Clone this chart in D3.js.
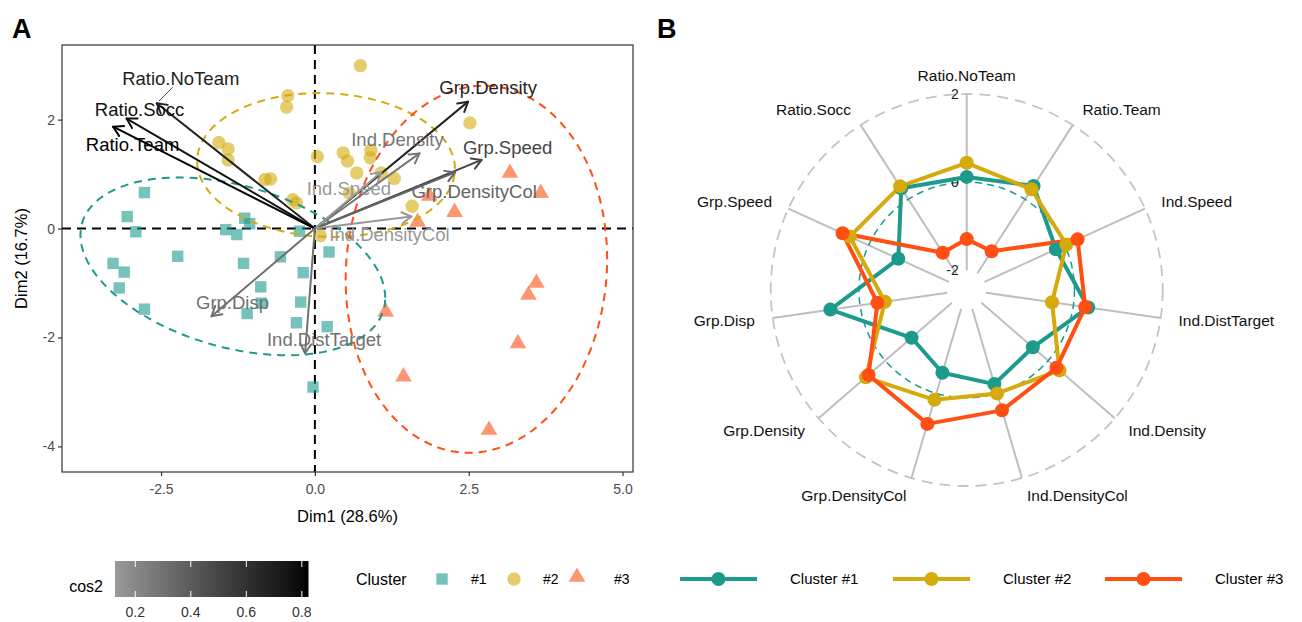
<!DOCTYPE html>
<html>
<head>
<meta charset="utf-8">
<script src="https://cdn.jsdelivr.net/npm/d3@7"></script>
<style>
  body { margin: 0; background: #fff; }
  svg { display: block; font-family: "Liberation Sans", Arial, Helvetica, sans-serif; }
</style>
</head>
<body>
<svg id="chart" width="1302" height="622"></svg>
<script>
// ---------------- data ----------------
// PCA individual scores, grouped by cluster
const c1x = [-2.77, -3.05, -2.91, -3.28, -3.10, -3.18, -2.77, -2.23, -1.14, -1.06, -1.45, -1.27, -1.16, -0.25, -0.56, -0.19, -0.88, -0.87, -0.23, -1.10, -0.30, 0.20, 0.23, -0.03];
const c1y = [0.66, 0.22, -0.06, -0.64, -0.80, -1.09, -1.48, -0.51, 0.19, 0.09, -0.02, -0.11, -0.64, -0.05, -0.52, -0.81, -1.07, -1.37, -1.35, -1.56, -1.73, -1.80, -0.43, -2.91];
const c2x = [0.74, -0.44, -0.46, -1.56, -1.41, -1.41, -0.81, -0.72, -0.36, -0.30, 0.04, 0.46, 0.53, 0.91, 0.90, 0.68, 1.08, 1.29, 0.56, 2.52, 1.58, 0.09];
const c2y = [2.99, 2.44, 2.23, 1.58, 1.46, 1.26, 0.90, 0.91, 0.53, 0.47, 1.32, 1.39, 1.24, 1.44, 1.30, 1.02, 1.02, 0.92, 0.65, 1.94, 0.41, -0.13];
const c3x = [3.17, 3.67, 1.86, 2.27, 1.67, 3.60, 3.47, 1.15, 3.30, 1.44, 2.83];
const c3y = [1.02, 0.65, 0.60, 0.30, 0.12, -1.00, -1.22, -1.53, -2.11, -2.72, -3.70];

// PCA variable coordinates (biplot scale) and quality of representation
const varNames = ["Ratio.NoTeam", "Ratio.Socc", "Ratio.Team", "Grp.Density", "Grp.Speed", "Ind.Density",
                  "Grp.DensityCol", "Ind.Speed", "Ind.DensityCol", "Grp.Disp", "Ind.DistTarget"];
const varX = [-2.57, -3.06, -3.28, 2.49, 2.71, 1.70, 2.28, 1.08, 1.57, -1.68, -0.16];
const varY = [2.30, 2.02, 1.87, 2.33, 1.26, 1.38, 1.03, 1.04, 0.22, -1.61, -2.29];
const varCos2 = [0.68, 0.77, 0.82, 0.67, 0.51, 0.28, 0.36, 0.13, 0.14, 0.31, 0.30];

const xTicks = [-2.5, 0, 2.5, 5];
const yTicks = [-4, -2, 0, 2];
const cos2Ticks = [0.2, 0.4, 0.6, 0.8];

// cluster profiles (standardised means) for the radar chart
const radarVars = ["Ratio.NoTeam", "Ratio.Team", "Ind.Speed", "Ind.DistTarget", "Ind.Density", "Ind.DensityCol",
                   "Grp.DensityCol", "Grp.Density", "Grp.Disp", "Grp.Speed", "Ratio.Socc"];
const profile1 = [0.12, 0.36, -0.22, 0.34, -0.46, -0.22, -0.49, -0.79, 0.68, -0.74, 0.30];
const profile2 = [0.44, 0.27, 0.04, -0.49, 0.34, 0.00, 0.15, 0.58, -0.57, 0.47, 0.35];
const profile3 = [-1.29, -1.40, 0.32, 0.27, 0.25, 0.40, 0.72, 0.50, -0.40, 0.65, -1.44];
const radarTicks = [-2, 0, 2];

const clusterNames = ["#1", "#2", "#3"];
const clusterColors = ["#1c9a8c", "#d4aa0c", "#ff4f12"];

// ---------------- setup ----------------
const svg = d3.select("#chart");
const FONT = '"Liberation Sans", Arial, Helvetica, sans-serif';

svg.append("text").attr("x", 12).attr("y", 38).attr("font-size", 27).attr("font-weight", "bold").text("A");
svg.append("text").attr("x", 657).attr("y", 38).attr("font-size", 27).attr("font-weight", "bold").text("B");

// ---------------- panel A: biplot ----------------
const pA = { left: 62, right: 633, top: 45, bottom: 472 };
const x = d3.scaleLinear().domain([-4.11, 5.17]).range([pA.left, pA.right]);
const y = d3.scaleLinear().domain([-4.47, 3.37]).range([pA.bottom, pA.top]);
const cos2Color = d3.scaleLinear().domain([0.127, 0.824]).range(["#9a9a9a", "#000000"]).interpolate(d3.interpolateLab);

svg.append("clipPath").attr("id", "clipA").append("rect")
  .attr("x", pA.left).attr("y", pA.top).attr("width", pA.right - pA.left).attr("height", pA.bottom - pA.top);

const gA = svg.append("g");
const plotA = gA.append("g").attr("clip-path", "url(#clipA)");

// reference lines through the origin
plotA.append("line").attr("x1", pA.left).attr("x2", pA.right).attr("y1", y(0)).attr("y2", y(0))
  .attr("stroke", "#000").attr("stroke-width", 2).attr("stroke-dasharray", "9,6");
plotA.append("line").attr("y1", pA.top).attr("y2", pA.bottom).attr("x1", x(0)).attr("x2", x(0))
  .attr("stroke", "#000").attr("stroke-width", 2).attr("stroke-dasharray", "9,6");

const groups = [
  { xs: c1x, ys: c1y, shape: d3.symbolSquare, size: 130 },
  { xs: c2x, ys: c2y, shape: d3.symbolCircle, size: 140 },
  { xs: c3x, ys: c3y, shape: d3.symbolTriangle, size: 120 }
];

// individuals
groups.forEach((g, gi) => {
  plotA.append("g").selectAll("path").data(g.xs.map((v, i) => [v, g.ys[i]])).join("path")
    .attr("transform", d => `translate(${x(d[0])},${y(d[1])})`)
    .attr("d", d3.symbol().type(g.shape).size(g.size))
    .attr("fill", clusterColors[gi]).attr("fill-opacity", 0.6);
});

// robust multivariate-t location/scatter (iteratively reweighted, nu = 5)
function covTrob(xs, ys, nu = 5, maxit = 25, tol = 0.01) {
  const n = xs.length, p = 2;
  let lx = d3.mean(xs), ly = d3.mean(ys);
  let w = new Array(n).fill(1);
  let X = [];
  for (let iter = 0; iter < maxit; iter++) {
    const w0 = w.slice();
    X = xs.map((v, i) => [v - lx, ys[i] - ly]);
    const sw = d3.sum(w);
    let a = 0, b = 0, c = 0;
    X.forEach((r, i) => { const f = w[i] / sw; a += f * r[0] * r[0]; b += f * r[0] * r[1]; c += f * r[1] * r[1]; });
    const det = a * c - b * b;
    const Q = X.map(r => (c * r[0] * r[0] - 2 * b * r[0] * r[1] + a * r[1] * r[1]) / det);
    w = Q.map(q => (nu + p) / (nu + q));
    const sw2 = d3.sum(w);
    lx = d3.sum(xs.map((v, i) => w[i] * v)) / sw2;
    ly = d3.sum(ys.map((v, i) => w[i] * v)) / sw2;
    if (w.every((v, i) => Math.abs(v - w0[i]) < tol)) break;
  }
  let sxx = 0, sxy = 0, syy = 0;
  X.forEach((r, i) => { sxx += w[i] * r[0] * r[0]; sxy += w[i] * r[0] * r[1]; syy += w[i] * r[1] * r[1]; });
  return { center: [lx, ly], cov: [[sxx / n, sxy / n], [sxy / n, syy / n]] };
}

// t-ellipse around each cluster
const ellipseLevel = 0.9;
function ellipsePoints(xs, ys, level) {
  const { center, cov } = covTrob(xs, ys);
  const dfd = xs.length - 1;
  const fq = dfd / 2 * (Math.pow(1 - level, -2 / dfd) - 1);   // F(2, dfd) quantile
  const k = Math.sqrt(2 * fq);
  const a = Math.sqrt(cov[0][0]), b = cov[0][1] / a, c = Math.sqrt(cov[1][1] - b * b);
  return d3.range(0, 101).map(i => {
    const t = i / 100 * 2 * Math.PI;
    const u = Math.cos(t), v = Math.sin(t);
    return [center[0] + k * u * a, center[1] + k * (u * b + v * c)];
  });
}
const ellipseLine = d3.line().x(d => x(d[0])).y(d => y(d[1])).curve(d3.curveLinearClosed);
groups.forEach((g, gi) => {
  plotA.append("path").attr("d", ellipseLine(ellipsePoints(g.xs, g.ys, ellipseLevel)))
    .attr("fill", "none").attr("stroke", clusterColors[gi]).attr("stroke-width", 2)
    .attr("stroke-dasharray", "8,6");
});

// variable arrows
const arrowLen = 11, arrowAng = Math.PI / 6;
varNames.forEach((name, i) => {
  const x0 = x(0), y0 = y(0), x1 = x(varX[i]), y1 = y(varY[i]);
  const th = Math.atan2(y1 - y0, x1 - x0);
  const col = cos2Color(varCos2[i]);
  const g = plotA.append("g").attr("stroke", col).attr("stroke-width", 2).attr("fill", "none")
    .attr("stroke-linecap", "round").attr("stroke-linejoin", "round");
  g.append("line").attr("x1", x0).attr("y1", y0).attr("x2", x1).attr("y2", y1);
  g.append("polyline").attr("points", [
    [x1 - arrowLen * Math.cos(th - arrowAng), y1 - arrowLen * Math.sin(th - arrowAng)],
    [x1, y1],
    [x1 - arrowLen * Math.cos(th + arrowAng), y1 - arrowLen * Math.sin(th + arrowAng)]
  ].map(p => p.join(",")).join(" "));
});

// repelled label offsets (px) from each arrow tip
const labelNudge = {
  "Ratio.NoTeam": [24, -25], "Ratio.Socc": [13, -9.5], "Ratio.Team": [19.5, 18],
  "Grp.Density": [20, -14], "Grp.Speed": [26, -13], "Ind.Density": [-22, -14],
  "Grp.DensityCol": [19, 18.5], "Ind.Speed": [-32.5, 16], "Ind.DensityCol": [-22, 18],
  "Grp.Disp": [21, -13.5], "Ind.DistTarget": [19, -14]
};
// leader segment for the label pushed away from its arrow
{
  const i = varNames.indexOf("Ratio.NoTeam");
  const tx = x(varX[i]), ty = y(varY[i]);
  gA.append("line").attr("x1", tx + 2).attr("y1", ty - 2).attr("x2", tx + 16).attr("y2", ty - 16)
    .attr("stroke", cos2Color(varCos2[i])).attr("stroke-width", 0.8);
}
varNames.forEach((name, i) => {
  const [dx, dy] = labelNudge[name];
  gA.append("text").attr("x", x(varX[i]) + dx).attr("y", y(varY[i]) + dy)
    .attr("text-anchor", "middle").attr("dy", "0.36em")
    .attr("font-size", 18.5).attr("fill", cos2Color(varCos2[i])).text(name);
});

// frame and axes
gA.append("rect").attr("x", pA.left).attr("y", pA.top).attr("width", pA.right - pA.left)
  .attr("height", pA.bottom - pA.top).attr("fill", "none").attr("stroke", "#333").attr("stroke-width", 1.2);

const xAxis = gA.append("g").attr("transform", `translate(0,${pA.bottom})`)
  .call(d3.axisBottom(x).tickValues(xTicks).tickFormat(d => d.toFixed(1)).tickSize(4).tickSizeOuter(0));
const yAxis = gA.append("g").attr("transform", `translate(${pA.left},0)`)
  .call(d3.axisLeft(y).tickValues(yTicks).tickFormat(d => String(d)).tickSize(4).tickSizeOuter(0));
[xAxis, yAxis].forEach(a => {
  a.select(".domain").remove();
  a.selectAll(".tick line").attr("stroke", "#333").attr("stroke-width", 1.2);
  a.selectAll(".tick text").attr("fill", "#4d4d4d").attr("font-size", 14).attr("font-family", FONT);
});
xAxis.selectAll(".tick text").attr("dy", "1.05em");

gA.append("text").attr("x", (pA.left + pA.right) / 2).attr("y", 522).attr("text-anchor", "middle")
  .attr("font-size", 16.5).text("Dim1 (28.6%)");
gA.append("text").attr("transform", `translate(27,${(pA.top + pA.bottom) / 2}) rotate(-90)`)
  .attr("text-anchor", "middle").attr("font-size", 16.5).text("Dim2 (16.7%)");

// ---------------- legends for panel A ----------------
const legY = 579;
svg.append("text").attr("x", 103).attr("y", 586).attr("text-anchor", "end").attr("font-size", 16).attr("dy", "0.35em").text("cos2");
const lx = d3.scaleLinear().domain([0.127, 0.824]).range([115, 308.5]);
const grad = svg.append("defs").append("linearGradient").attr("id", "cos2grad");
d3.range(0, 11).forEach(i => {
  const v = 0.127 + (0.824 - 0.127) * i / 10;
  grad.append("stop").attr("offset", `${i * 10}%`).attr("stop-color", cos2Color(v));
});
svg.append("rect").attr("x", lx.range()[0]).attr("y", 561).attr("width", lx.range()[1] - lx.range()[0])
  .attr("height", 36).attr("fill", "url(#cos2grad)");
cos2Ticks.forEach(t => {
  svg.append("line").attr("x1", lx(t)).attr("x2", lx(t)).attr("y1", 561).attr("y2", 567).attr("stroke", "#fff").attr("stroke-width", 1);
  svg.append("line").attr("x1", lx(t)).attr("x2", lx(t)).attr("y1", 591).attr("y2", 597).attr("stroke", "#fff").attr("stroke-width", 1);
  svg.append("text").attr("x", lx(t)).attr("y", 612).attr("dy", "0.35em").attr("text-anchor", "middle")
    .attr("font-size", 14).attr("fill", "#333").text(t.toFixed(1));
});

svg.append("text").attr("x", 356).attr("y", legY).attr("dy", "0.35em").attr("font-size", 16).text("Cluster");
const clKeyX = [442, 514, 577];
const clLabX = [471, 543, 614];
groups.forEach((g, gi) => {
  svg.append("path").attr("transform", `translate(${clKeyX[gi]},${legY - (gi === 2 ? 2 : 0)})`)
    .attr("d", d3.symbol().type(g.shape).size(g.size)).attr("fill", clusterColors[gi]).attr("fill-opacity", 0.6);
  svg.append("text").attr("x", clLabX[gi]).attr("y", legY).attr("dy", "0.35em").attr("font-size", 14).text(clusterNames[gi]);
});

// ---------------- panel B: radar ----------------
const cx = 966.7, cy = 290, R = 196;
const rScale = d3.scaleLinear().domain([-2 - 4 / 9, 2]).range([0, R]);
const nV = radarVars.length;
const angle = i => i * 2 * Math.PI / nV;
const polar = (a, r) => [cx + r * Math.sin(a), cy - r * Math.cos(a)];

const gB = svg.append("g");
// outer grid circle
gB.append("circle").attr("cx", cx).attr("cy", cy).attr("r", rScale(2))
  .attr("fill", "none").attr("stroke", "#c4c4c4").attr("stroke-width", 1.8).attr("stroke-dasharray", "11,7");
// spokes
radarVars.forEach((v, i) => {
  const [x1, y1] = polar(angle(i), rScale(-2));
  const [x2, y2] = polar(angle(i), rScale(2));
  gB.append("line").attr("x1", x1).attr("y1", y1).attr("x2", x2).attr("y2", y2)
    .attr("stroke", "#bebebe").attr("stroke-width", 2);
});
// middle grid circle
gB.append("circle").attr("cx", cx).attr("cy", cy).attr("r", rScale(0))
  .attr("fill", "none").attr("stroke", "#1c9a8c").attr("stroke-width", 1.5).attr("stroke-dasharray", "7,5");

// grid value labels
radarTicks.forEach(t => {
  gB.append("text").attr("x", cx - 8).attr("y", cy - rScale(t)).attr("dy", "0.35em")
    .attr("text-anchor", "end").attr("font-size", 14).attr("fill", "#222").text(String(t));
});

// axis labels
radarVars.forEach((v, i) => {
  const a = angle(i);
  const [lxp, lyp] = polar(a, 214);
  const s = Math.sin(a);
  gB.append("text").attr("x", lxp).attr("y", lyp).attr("dy", "0.35em")
    .attr("text-anchor", s > 0.01 ? "start" : (s < -0.01 ? "end" : "middle"))
    .attr("font-size", 15.5).attr("fill", "#111").text(v);
});

// cluster profiles
const profiles = [profile1, profile2, profile3];
const radarLine = d3.lineRadial().angle((d, i) => angle(i)).radius(d => rScale(d)).curve(d3.curveLinearClosed);
profiles.forEach((p, pi) => {
  gB.append("path").attr("transform", `translate(${cx},${cy})`).attr("d", radarLine(p))
    .attr("fill", "none").attr("stroke", clusterColors[pi]).attr("stroke-width", 4).attr("stroke-linejoin", "round");
});
profiles.forEach((p, pi) => {
  gB.append("g").selectAll("circle").data(p).join("circle")
    .attr("cx", (d, i) => polar(angle(i), rScale(d))[0])
    .attr("cy", (d, i) => polar(angle(i), rScale(d))[1])
    .attr("r", 7).attr("fill", clusterColors[pi]);
});

// legend for panel B
const rlLineX = [680, 893, 1105];
const rlLabX = [790, 1003, 1215];
profiles.forEach((p, pi) => {
  svg.append("line").attr("x1", rlLineX[pi]).attr("x2", rlLineX[pi] + 77).attr("y1", legY).attr("y2", legY)
    .attr("stroke", clusterColors[pi]).attr("stroke-width", 4);
  svg.append("circle").attr("cx", rlLineX[pi] + 38.5).attr("cy", legY).attr("r", 7).attr("fill", clusterColors[pi]);
  svg.append("text").attr("x", rlLabX[pi]).attr("y", legY).attr("dy", "0.35em").attr("font-size", 15)
    .text("Cluster " + clusterNames[pi]);
});
</script>
</body>
</html>
